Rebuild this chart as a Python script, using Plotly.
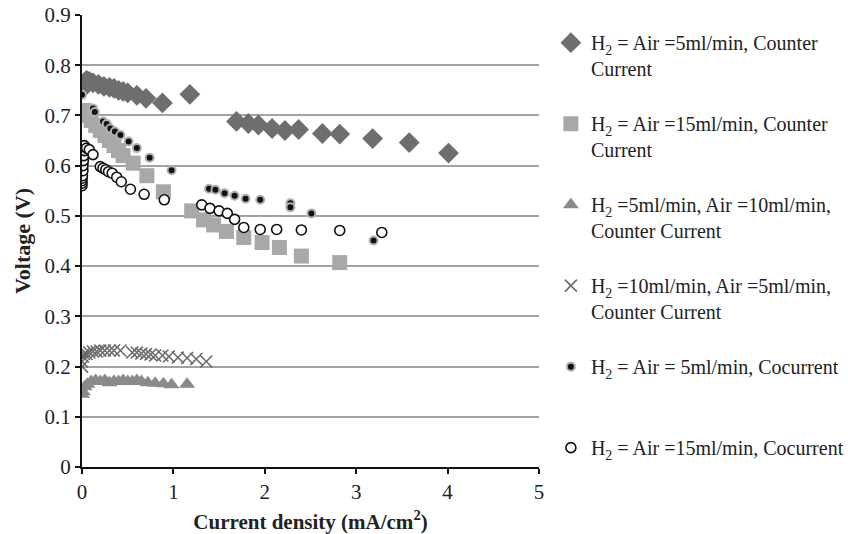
import plotly.graph_objects as go

# Series 1: H2 = Air = 5 ml/min, counter current (diamonds)
s1_x = [0.0, 0.01, 0.02, 0.05, 0.08, 0.12, 0.18, 0.24, 0.3, 0.35, 0.4, 0.45, 0.5, 0.6, 0.7, 0.88, 1.18,
        1.69, 1.82, 1.93, 2.08, 2.22, 2.37, 2.63, 2.82, 3.18, 3.58, 4.01]
s1_y = [0.752, 0.76, 0.765, 0.77, 0.768, 0.765, 0.762, 0.758, 0.756, 0.754, 0.75, 0.748, 0.745, 0.74, 0.734, 0.725, 0.742,
        0.688, 0.684, 0.681, 0.674, 0.670, 0.672, 0.664, 0.663, 0.654, 0.646, 0.625]

# Series 2: H2 = Air = 15 ml/min, counter current (squares)
s2_x = [0.0, 0.02, 0.05, 0.1, 0.15, 0.2, 0.25, 0.3, 0.35, 0.4, 0.45, 0.56, 0.71, 0.89,
        1.2, 1.33, 1.44, 1.58, 1.77, 1.97, 2.16, 2.4, 2.82]
s2_y = [0.705, 0.71, 0.7, 0.69, 0.68, 0.67, 0.66, 0.65, 0.64, 0.63, 0.62, 0.605, 0.58, 0.548,
        0.51, 0.492, 0.482, 0.469, 0.457, 0.447, 0.437, 0.42, 0.407]

# Series 3: H2 = 5 ml/min, Air = 10 ml/min, counter current (triangles)
s3_x = [0.0, 0.01, 0.03, 0.06, 0.1, 0.15, 0.2, 0.25, 0.3, 0.35, 0.4, 0.45, 0.5, 0.55, 0.6, 0.65,
        0.72, 0.8, 0.89, 0.98, 1.15]
s3_y = [0.145, 0.15, 0.16, 0.165, 0.17, 0.172, 0.17, 0.172, 0.168, 0.17, 0.17, 0.172, 0.17, 0.17, 0.172, 0.17,
        0.168, 0.167, 0.166, 0.164, 0.165]

# Series 4: H2 = 10 ml/min, Air = 5 ml/min, counter current (crosses)
s4_x = [0.0, 0.0, 0.01, 0.02, 0.05, 0.08, 0.12, 0.16, 0.2, 0.25, 0.3, 0.35, 0.42,
        0.55, 0.6, 0.65, 0.7, 0.75, 0.8, 0.88, 0.95, 1.05, 1.15, 1.25, 1.36]
s4_y = [0.2, 0.21, 0.22, 0.225, 0.225, 0.228, 0.23, 0.23, 0.232, 0.232, 0.232, 0.232, 0.232,
        0.228, 0.228, 0.226, 0.225, 0.224, 0.222, 0.222, 0.22, 0.218, 0.217, 0.215, 0.21]

# Series 5: H2 = Air = 5 ml/min, cocurrent (filled dots)
s5_x = [0.0, 0.12, 0.14, 0.23, 0.27, 0.31, 0.36, 0.42, 0.51, 0.6, 0.74, 0.98,
        1.39, 1.46, 1.56, 1.67, 1.79, 1.95, 2.28, 2.28, 2.51, 3.19]
s5_y = [0.741, 0.714, 0.707, 0.688, 0.683, 0.674, 0.668, 0.661, 0.648, 0.635, 0.616, 0.591,
        0.554, 0.552, 0.545, 0.54, 0.534, 0.532, 0.525, 0.517, 0.505, 0.451]

# Series 6: H2 = Air = 15 ml/min, cocurrent (open circles)
s6_x = [0.0, 0.0, 0.0, 0.0, 0.003, 0.005, 0.006, 0.008, 0.01, 0.01, 0.012, 0.015, 0.018, 0.02, 0.025, 0.03,
        0.05, 0.08, 0.12,
        0.2, 0.23, 0.26, 0.29, 0.33, 0.38, 0.43, 0.53, 0.68, 0.9,
        1.31, 1.4, 1.5, 1.59, 1.67, 1.77, 1.95, 2.13, 2.4, 2.82, 3.28]
s6_y = [0.56, 0.565, 0.57, 0.575, 0.585, 0.58, 0.595, 0.605, 0.59, 0.6, 0.615, 0.61, 0.625, 0.62, 0.64, 0.63,
        0.635, 0.632, 0.622,
        0.598, 0.595, 0.592, 0.588, 0.585, 0.577, 0.568, 0.553, 0.543, 0.532,
        0.522, 0.515, 0.51, 0.505, 0.493, 0.477, 0.473, 0.473, 0.472, 0.471, 0.467]

names = [
    "H<sub>2</sub> = Air =5ml/min, Counter<br>Current",
    "H<sub>2</sub> = Air =15ml/min, Counter<br>Current",
    "H<sub>2</sub> =5ml/min, Air =10ml/min,<br>Counter Current",
    "H<sub>2</sub> =10ml/min, Air =5ml/min,<br>Counter Current",
    "H<sub>2</sub> = Air = 5ml/min, Cocurrent<br> ",
    "H<sub>2</sub> = Air =15ml/min, Cocurrent",
]

fig = go.Figure()
fig.add_trace(go.Scatter(x=s1_x, y=s1_y, mode="markers", name=names[0], legendgroup="g1",
                         marker=dict(symbol="diamond", size=16, color="#6e6e6e")))
fig.add_trace(go.Scatter(x=s2_x, y=s2_y, mode="markers", name=names[1], legendgroup="g2",
                         marker=dict(symbol="square", size=15, color="#a8a8a8")))
fig.add_trace(go.Scatter(x=s3_x, y=s3_y, mode="markers", name=names[2], legendgroup="g3",
                         marker=dict(symbol="triangle-up", size=14, color="#8a8a8a")))
fig.add_trace(go.Scatter(x=s4_x, y=s4_y, mode="markers", name=names[3], legendgroup="g4",
                         marker=dict(symbol="x-thin", size=12, color="#6a6a6a",
                                     line=dict(width=1.6, color="#6a6a6a"))))
fig.add_trace(go.Scatter(x=s5_x, y=s5_y, mode="markers", name=names[4], legendgroup="g5",
                         marker=dict(symbol="circle", size=8, color="#111111",
                                     line=dict(width=2, color="#b0b0b0"))))
fig.add_trace(go.Scatter(x=s6_x, y=s6_y, mode="markers", name=names[5], legendgroup="g6",
                         marker=dict(symbol="circle", size=10, color="white",
                                     line=dict(width=1.6, color="#111111"))))

serif = "Liberation Serif, Times New Roman, serif"
fig.update_layout(
    width=848, height=534,
    margin=dict(l=82, r=309, t=15, b=67, autoexpand=False),
    paper_bgcolor="white", plot_bgcolor="white",
    font=dict(family=serif, size=20, color="#222222"),
    showlegend=True,
    legend=dict(x=1.026, y=0.982, xanchor="left", yanchor="top",
                font=dict(family=serif, size=20, color="#222222"),
                valign="top", traceorder="grouped", tracegroupgap=26, itemwidth=30,
                bgcolor="rgba(0,0,0,0)"),
    xaxis=dict(range=[0, 5], dtick=1, tick0=0, showgrid=False, zeroline=False,
               showline=True, linecolor="#111111", linewidth=2,
               ticks="outside", ticklen=5, tickwidth=1.5, tickcolor="#111111",
               tickfont=dict(family=serif, size=21, color="#222222"),
               title=dict(text="<b>Current density (mA/cm<sup>2</sup>)</b>",
                          font=dict(family=serif, size=21, color="#222222"), standoff=11)),
    yaxis=dict(range=[0, 0.9], dtick=0.1, tick0=0,
               showgrid=True, gridcolor="#a3a3a3", gridwidth=2, zeroline=False,
               showline=True, linecolor="#111111", linewidth=2,
               ticks="outside", ticklen=5, tickwidth=1.5, tickcolor="#111111",
               tickfont=dict(family=serif, size=21, color="#222222"),
               title=dict(text="<b>Voltage (V)</b>",
                          font=dict(family=serif, size=22, color="#222222"), standoff=8)),
)
fig.update_yaxes(tickvals=[0, 0.1, 0.2, 0.3, 0.4, 0.5, 0.6, 0.7, 0.8, 0.9],
                 ticktext=["0", "0.1", "0.2", "0.3", "0.4", "0.5", "0.6", "0.7", "0.8", "0.9"])

fig.write_html("out.html")
